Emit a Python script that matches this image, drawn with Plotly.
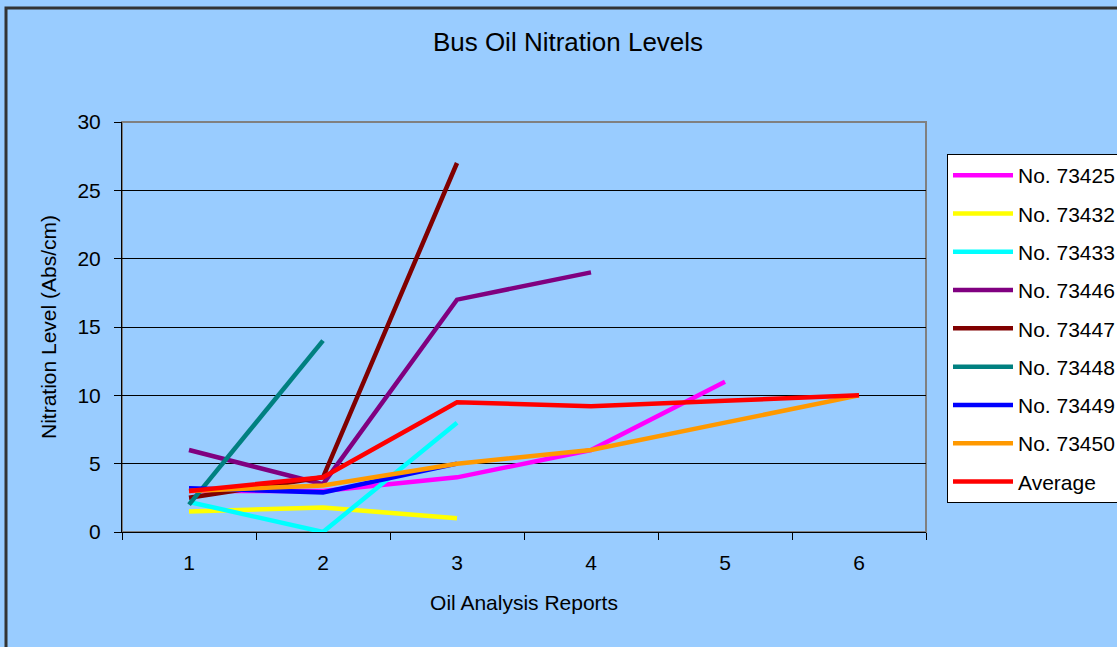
import plotly.graph_objects as go

reports = ["1", "2", "3", "4", "5", "6"]

bus_73425 = [3.0, 3.0, 4.0, 6.0, 11.0]
bus_73432 = [1.5, 1.8, 1.0]
bus_73433 = [2.2, 0.0, 8.0]
bus_73446 = [6.0, 3.5, 17.0, 19.0]
bus_73447 = [2.5, 4.0, 27.0]
bus_73448 = [2.0, 14.0]
bus_73449 = [3.2, 2.9, 5.0]
bus_73450 = [3.0, 3.4, 5.0, 6.0, 8.0, 10.0]
average = [3.0, 4.0, 9.5, 9.2, 9.6, 10.0]

series = [
    ("No. 73425", bus_73425, "#FF00FF"),
    ("No. 73432", bus_73432, "#FFFF00"),
    ("No. 73433", bus_73433, "#00FFFF"),
    ("No. 73446", bus_73446, "#800080"),
    ("No. 73447", bus_73447, "#800000"),
    ("No. 73448", bus_73448, "#008080"),
    ("No. 73449", bus_73449, "#0000FF"),
    ("No. 73450", bus_73450, "#FF9900"),
    ("Average", average, "#FF0000"),
]

FONT = "Liberation Sans, Arial, sans-serif"
BG = "#99CCFF"

W, H = 1117, 647
L, T, PW, PH = 122, 122, 804, 410

fig = go.Figure()
for i, (name, vals, color) in enumerate(series):
    fig.add_trace(go.Scatter(
        x=reports[:len(vals)], y=vals, name=name, mode="lines",
        line=dict(color=color, width=4.5),
        legendgroup=f"g{i}",
    ))

fig.update_layout(
    width=W, height=H,
    margin=dict(l=L, r=W - L - PW, t=T, b=H - T - PH, autoexpand=False),
    paper_bgcolor=BG, plot_bgcolor=BG,
    font=dict(family=FONT, color="black", size=21),
    title=dict(text="Bus Oil Nitration Levels", x=568 / W, xanchor="center",
               y=1 - 42 / H, yanchor="middle",
               font=dict(size=26, family=FONT, color="black")),
    showlegend=True,
    legend=dict(
        x=(947 - L) / PW, xanchor="left",
        y=(T + PH - 154) / PH, yanchor="top",
        bgcolor="white", bordercolor="black", borderwidth=1,
        font=dict(size=21, family=FONT, color="black"),
        traceorder="grouped", tracegroupgap=8, itemwidth=60,
    ),
    xaxis=dict(
        type="category", categoryorder="array", categoryarray=reports,
        range=[-0.5, 5.5],
        showgrid=False, zeroline=False,
        showline=True, linecolor="black", linewidth=1,
        ticks="outside", tickson="boundaries", ticklen=7, tickcolor="black",
        ticklabelstandoff=12,
        tickfont=dict(size=21, family=FONT, color="black"),
        title=dict(text="Oil Analysis Reports", standoff=22,
                   font=dict(size=21, family=FONT, color="black")),
    ),
    yaxis=dict(
        range=[0, 30], dtick=5, tick0=0,
        showgrid=True, gridcolor="black", gridwidth=1,
        zeroline=False,
        showline=True, linecolor="black", linewidth=1,
        ticks="outside", ticklen=7, tickcolor="black",
        ticklabelstandoff=9,
        tickfont=dict(size=21, family=FONT, color="black"),
        title=dict(text="Nitration Level (Abs/cm)", standoff=15,
                   font=dict(size=21, family=FONT, color="black")),
    ),
    shapes=[
        dict(type="rect", xref="paper", yref="paper", x0=0, x1=1, y0=0, y1=1,
             line=dict(color="#808080", width=2), layer="below"),
        dict(type="rect", xref="paper", yref="paper",
             x0=(6 - L) / PW, x1=(W + 30 - L) / PW,
             y0=-0.5, y1=(T + PH - 8) / PH,
             line=dict(color="#333333", width=3), fillcolor="rgba(0,0,0,0)",
             layer="above"),
    ],
)

fig.write_html(
    "out.html",
    config={"displayModeBar": False},
    post_script="document.body.style.margin='0';document.body.style.overflow='hidden';",
)
